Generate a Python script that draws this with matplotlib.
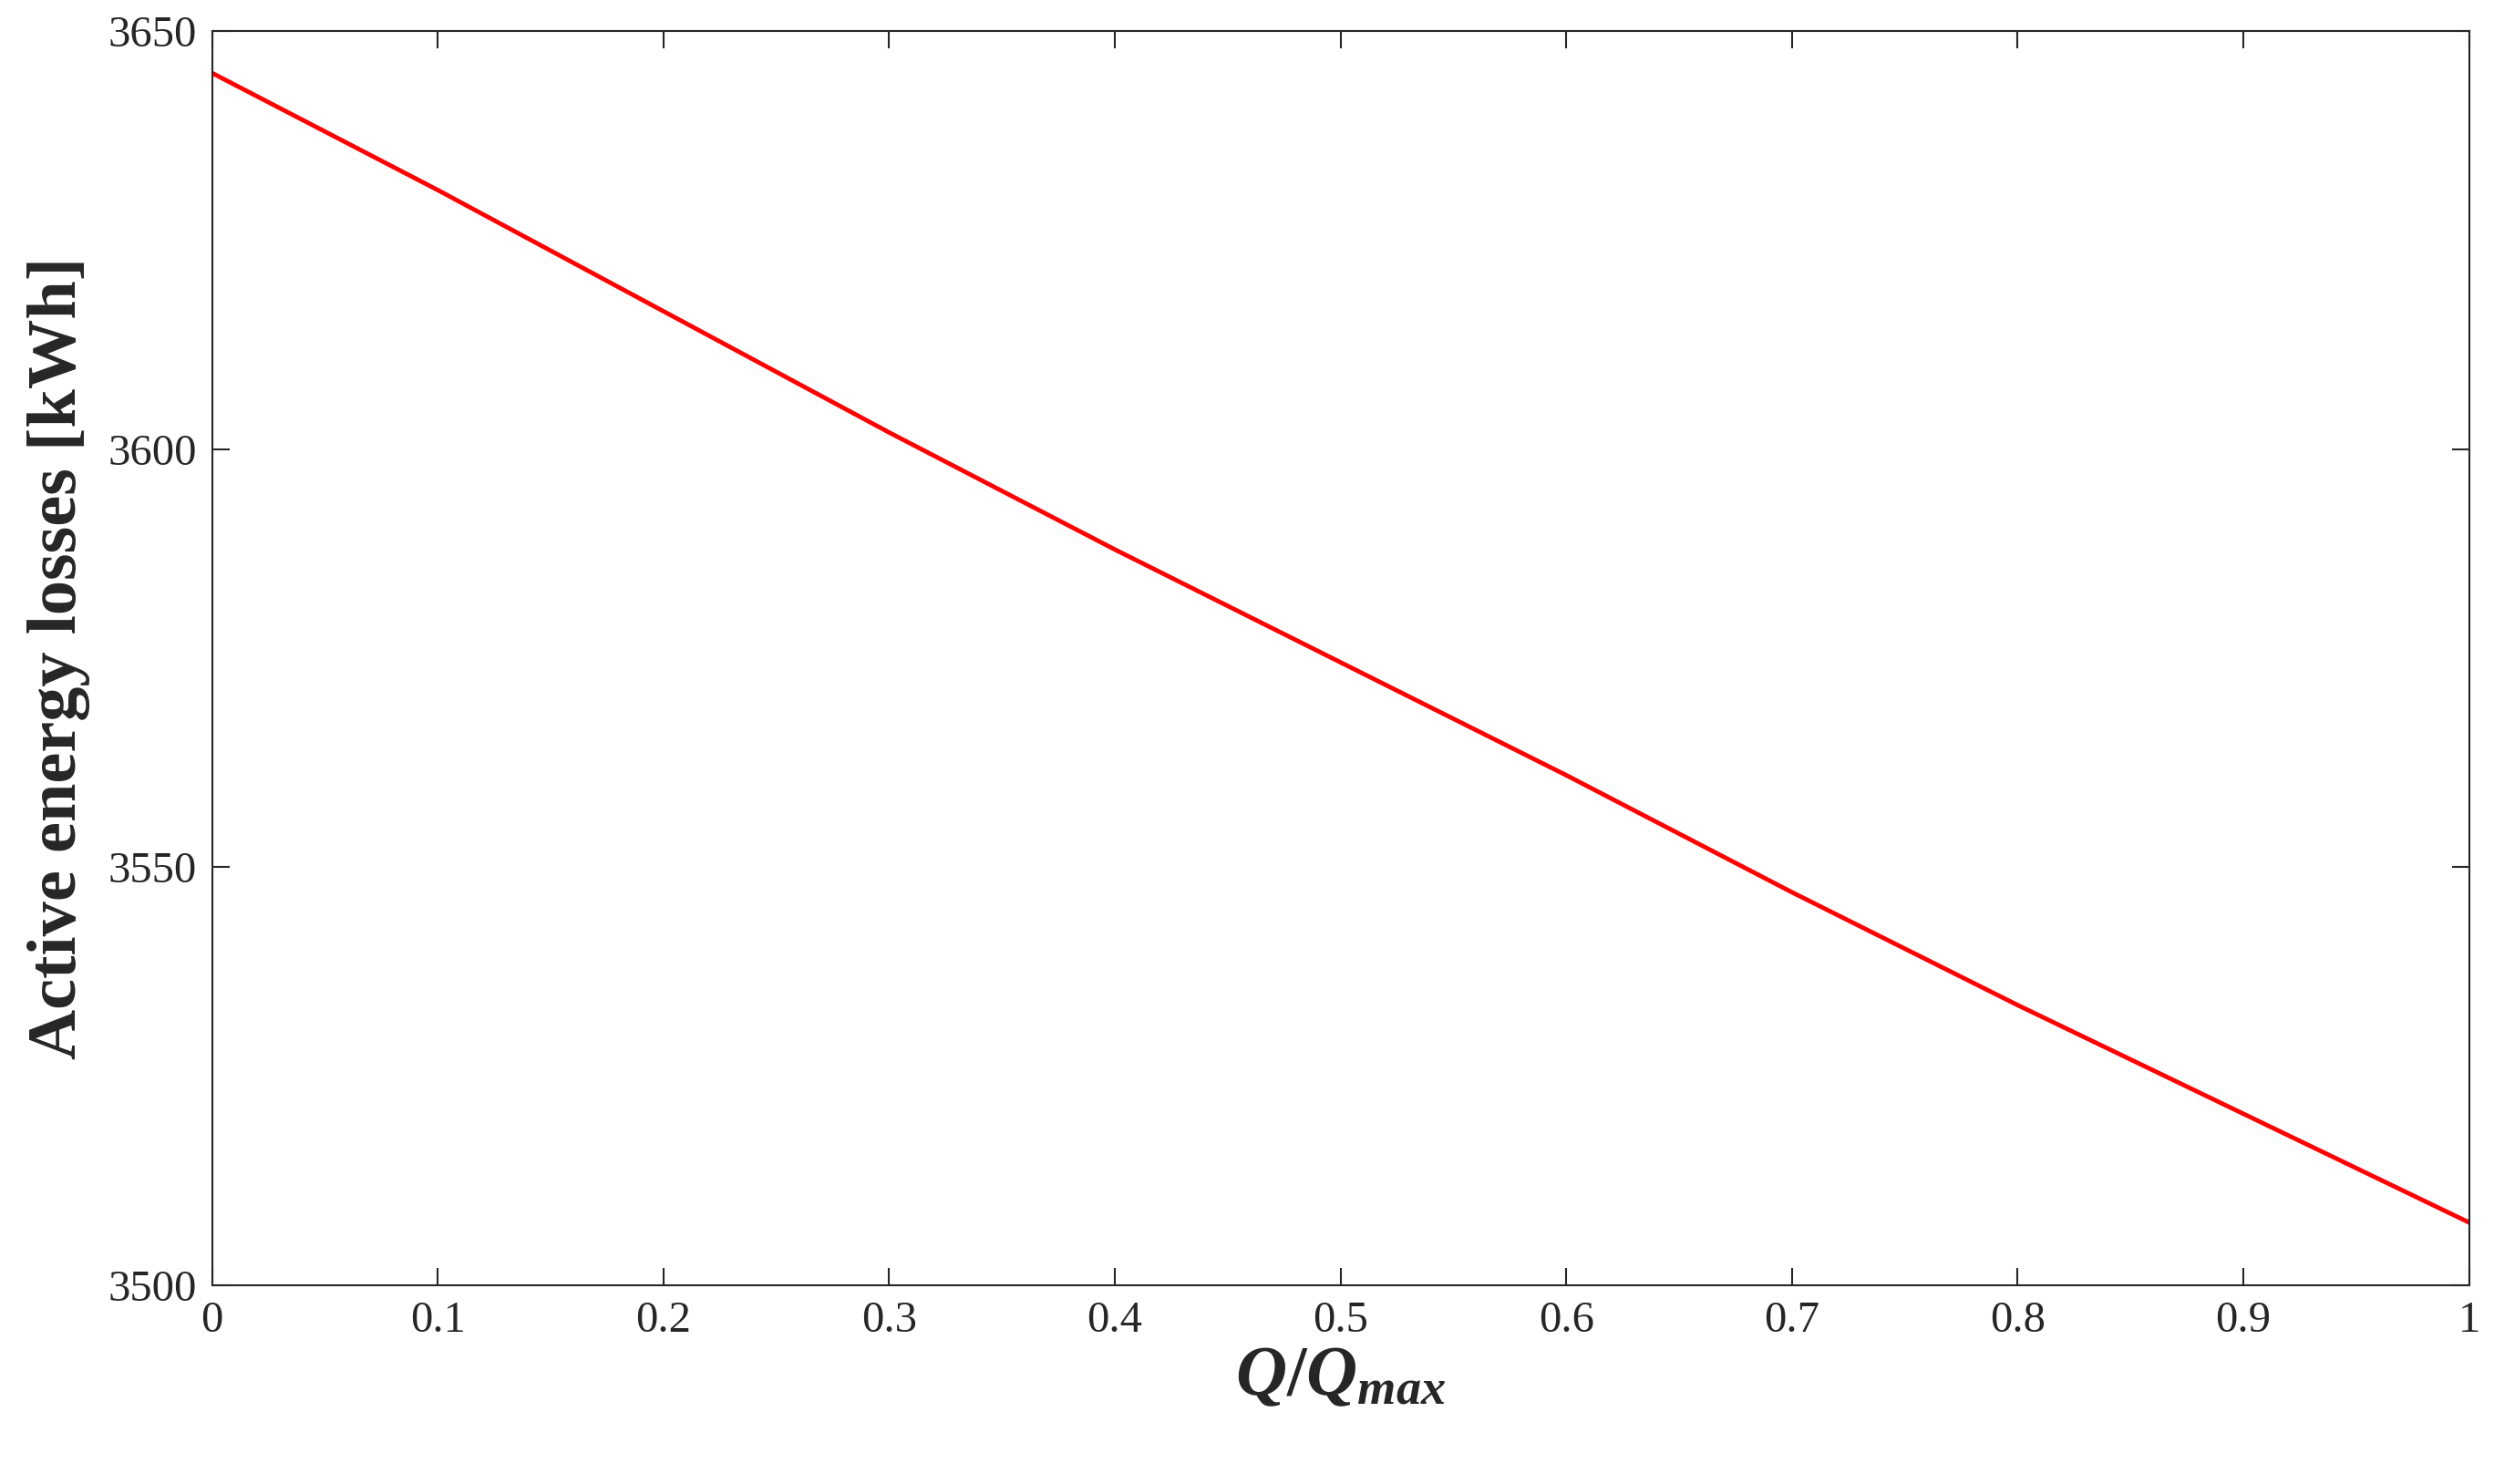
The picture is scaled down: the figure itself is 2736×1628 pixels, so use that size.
import matplotlib
matplotlib.use('Agg')
import matplotlib.pyplot as plt

# Values
q_ratio = [0.0, 0.1, 0.2, 0.3, 0.4, 0.5, 0.6, 0.7, 0.8, 0.9, 1.0]
losses = [3645, 3631, 3616.5, 3602, 3588, 3574.5, 3561, 3547, 3533.5, 3520.5, 3507.5]
x_ticks = [0, 0.1, 0.2, 0.3, 0.4, 0.5, 0.6, 0.7, 0.8, 0.9, 1]
x_tick_labels = ['0', '0.1', '0.2', '0.3', '0.4', '0.5', '0.6', '0.7', '0.8', '0.9', '1']
y_ticks = [3500, 3550, 3600, 3650]

plt.rcParams['font.family'] = 'Liberation Serif'
plt.rcParams['mathtext.fontset'] = 'custom'
plt.rcParams['mathtext.it'] = 'Liberation Serif:italic:bold'
plt.rcParams['mathtext.rm'] = 'Liberation Serif:bold'

fig = plt.figure(figsize=(27.36, 16.28), dpi=100)
ax = fig.add_axes([0.085, 0.134, 0.905, 0.845])
ax.plot(q_ratio, losses, color='#ff0000', linewidth=3.5)

ax.set_xlim(0, 1)
ax.set_ylim(3500, 3650)
ax.set_xticks(x_ticks)
ax.set_xticklabels(x_tick_labels)
ax.set_yticks(y_ticks)
ax.tick_params(direction='in', top=True, right=True, length=14, width=1.5,
               labelsize=35, colors='#262626', pad=12)
for s in ax.spines.values():
  s.set_linewidth(1.5)
  s.set_color('#262626')

ax.set_xlabel(r'$Q/Q_{max}$', fontsize=56, color='#262626', labelpad=4)
ax.set_ylabel('Active energy losses [kWh]', fontsize=55, fontweight='bold',
              color='#262626', labelpad=14)

fig.savefig('out.png', dpi=100)
